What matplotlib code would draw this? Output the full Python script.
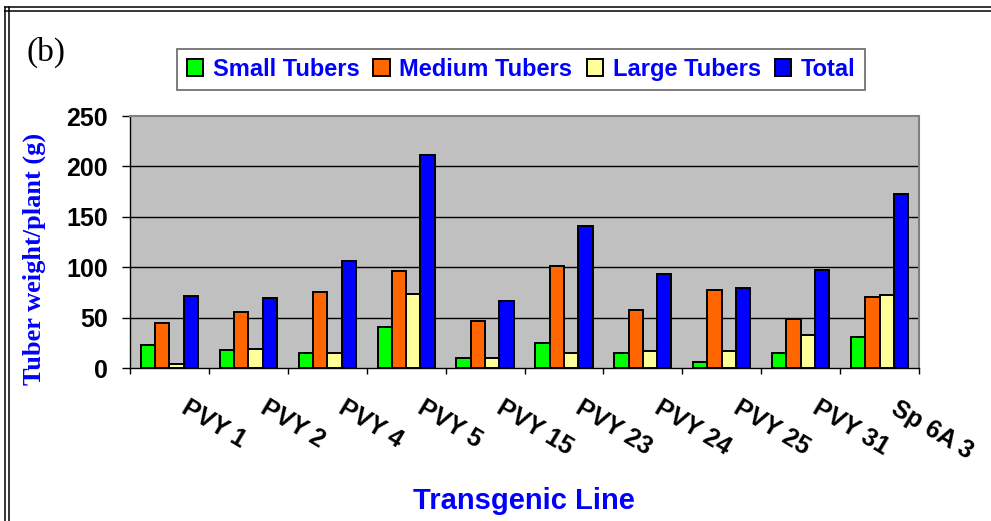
import matplotlib
matplotlib.use("Agg")
import matplotlib.pyplot as plt
import matplotlib.transforms as mtransforms
from matplotlib.patches import Patch
from matplotlib.lines import Line2D
import numpy as np

categories = ["PVY 1", "PVY 2", "PVY 4", "PVY 5", "PVY 15", "PVY 23", "PVY 24", "PVY 25", "PVY 31", "Sp 6A 3"]
small_tubers = [23, 17.5, 15, 40.5, 9.5, 25, 15, 5.5, 15, 30.5]
medium_tubers = [44.5, 56, 75.5, 96.5, 46.5, 101, 58, 77.5, 48.5, 70]
large_tubers = [4, 19, 15, 73, 9.5, 15, 17, 17, 32.5, 72]
total = [71.5, 69.5, 106.5, 211, 66, 141, 93, 79.5, 97, 172.5]
series_names = ["Small Tubers", "Medium Tubers", "Large Tubers", "Total"]
series_values = [small_tubers, medium_tubers, large_tubers, total]
series_colors = ["#00FF00", "#FF6600", "#FFFF99", "#0000FF"]
yticks = [0, 50, 100, 150, 200, 250]

SANS = ["Liberation Sans", "DejaVu Sans"]
SERIF = ["Liberation Serif", "DejaVu Serif"]
plt.rcParams["font.family"] = SANS

W, H = 991, 521
fig = plt.figure(figsize=(W / 100, H / 100), dpi=100)
fig.patch.set_facecolor("white")

left, right, top, bottom = 130, 919, 116, 368
ax = fig.add_axes([left / W, 1 - bottom / H, (right - left) / W, (bottom - top) / H])
ax.set_facecolor("#C0C0C0")

n = len(categories)
x = np.arange(n)
w = 0.181
for k, (vals, col) in enumerate(zip(series_values, series_colors)):
    ax.bar(x + (k - 1.5) * w, vals, width=w, color=col, edgecolor="black",
           linewidth=1.4, zorder=3)

ax.set_xlim(-0.5, n - 0.5)
ax.set_ylim(0, 250)
ax.set_yticks(yticks)
ax.set_yticklabels([str(v) for v in yticks], fontsize=18, fontweight="bold")
ax.set_xticks(np.arange(n + 1) - 0.5)
ax.set_xticklabels([])
ax.tick_params(axis="y", direction="out", length=5.8, width=1, color="black", pad=10)
ax.tick_params(axis="x", direction="out", length=4.3, width=1, color="black")

for yv in yticks[1:-1]:
    ax.axhline(yv, color="black", linewidth=1, zorder=1)

for s in ["top", "right"]:
    ax.spines[s].set_color("#808080")
    ax.spines[s].set_linewidth(1.5)
for s in ["left", "bottom"]:
    ax.spines[s].set_color("black")
    ax.spines[s].set_linewidth(1)

# rotated category labels
off = mtransforms.ScaledTranslation(20 / 100, -28 / 100, fig.dpi_scale_trans)
trans = ax.get_xaxis_transform() + off
for xi, lab in zip(x, categories):
    ax.text(xi, 0, lab, transform=trans, rotation=-31, rotation_mode="anchor",
            ha="left", va="top", fontsize=18, fontweight="bold", color="black")

# axis titles
fig.text(34 / W, 1 - 259 / H, "Tuber weight/plant (g)", rotation=90, ha="center", va="center",
         fontsize=19, fontweight="bold", color="#0000FF", family=SERIF)
fig.text(524 / W, 1 - 509 / H, "Transgenic Line", ha="center", va="baseline",
         fontsize=21, fontweight="bold", color="#0000FF")

# (b) label
fig.text(27 / W, 1 - 52 / H, "(b)", ha="left", va="center", fontsize=24, color="black", family=SERIF)

# legend
handles = [Patch(facecolor=c, edgecolor="black", linewidth=1.4) for c in series_colors]
leg = fig.legend(handles, series_names, loc="center",
                 bbox_to_anchor=((176 + 866) / 2 / W, 1 - 69.5 / H),
                 ncol=4, frameon=True, fancybox=False, handlelength=0.7, handleheight=0.7,
                 handletextpad=0.4, columnspacing=0.6, borderpad=0.4,
                 prop={"size": 17, "weight": "bold", "family": SANS})
leg.get_frame().set_edgecolor("#404040")
leg.get_frame().set_linewidth(1.2)
for t in leg.get_texts():
    t.set_color("#0000FF")

# double frame around figure
for yy in [7, 10.5]:
    fig.add_artist(Line2D([5 / W, 1], [1 - yy / H, 1 - yy / H], transform=fig.transFigure,
                          color="black", linewidth=1.1))
for xx in [5, 8.5]:
    fig.add_artist(Line2D([xx / W, xx / W], [0, 1 - 7 / H], transform=fig.transFigure,
                          color="black", linewidth=1.1))

fig.savefig("out.png", dpi=100)
